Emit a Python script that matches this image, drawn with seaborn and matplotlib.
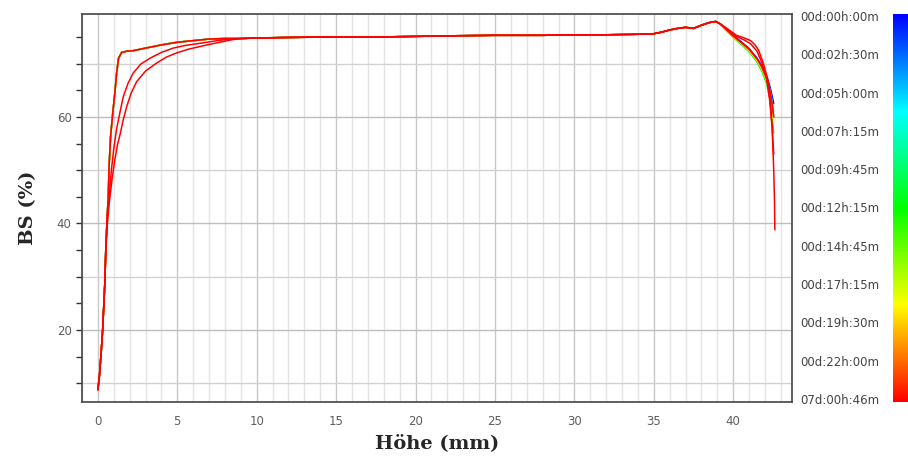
import numpy as np
import pandas as pd
import matplotlib
matplotlib.use("Agg")
import matplotlib.pyplot as plt
from matplotlib.colors import LinearSegmentedColormap
from matplotlib.ticker import MultipleLocator
import seaborn as sns

# colorbar time labels (top -> bottom)
zeit_labels = ["00d:00h:00m", "00d:02h:30m", "00d:05h:00m", "00d:07h:15m",
               "00d:09h:45m", "00d:12h:15m", "00d:14h:45m", "00d:17h:15m",
               "00d:19h:30m", "00d:22h:00m", "07d:00h:46m"]

# steep rise, shared by the early scans
start_x = [0, 0.1, 0.2, 0.3, 0.44, 0.5, 0.59, 0.65, 0.71, 0.8, 0.93, 1.07, 1.18,
           1.3, 1.5, 1.8, 2.2, 3, 4, 5, 6, 7, 8]
start_y = [8.8, 11.5, 15.5, 20, 29, 35.4, 41.6, 44.8, 51, 56.3, 60.5, 64.5, 68.2,
           71.0, 72.1, 72.3, 72.4, 72.9, 73.5, 74.0, 74.3, 74.6, 74.7]

# plateau, shared by all scans
mitte_x = [9, 10, 12, 15, 18, 20, 22, 25, 28, 30, 32, 34, 35, 35.5, 36, 36.5,
           37, 37.5, 38, 38.5, 38.9, 39.2]
mitte_y = [74.7, 74.8, 74.9, 75.0, 75.0, 75.1, 75.2, 75.3, 75.3, 75.4, 75.4, 75.5,
           75.6, 75.9, 76.3, 76.6, 76.8, 76.6, 77.2, 77.7, 77.9, 77.4]

# top end of the sample, per scan
tail_x = [39.6, 40.0, 40.5, 41.0, 41.5, 41.8, 42.1, 42.3, 42.45, 42.55]
tail_blau = [76.3, 75.3, 74.1, 72.8, 71.0, 69.6, 67.6, 65.8, 63.9, 62.5]
tail_cyan = [76.2, 75.1, 73.9, 72.6, 70.8, 69.3, 67.2, 65.2, 63.0, 61.0]
tail_gruen = [76.0, 74.9, 73.6, 72.2, 70.3, 68.6, 66.3, 63.5, 60.0, 57.0]
tail_gelb = [76.1, 75.0, 73.8, 72.4, 70.6, 69.0, 66.8, 64.5, 61.5, 59.0]
tail_orange = [76.2, 75.1, 73.9, 72.6, 70.8, 69.3, 67.0, 64.8, 62.0, 60.0]
tail_rot = [76.3, 75.2, 74.0, 72.7, 70.9, 69.4, 67.3, 65.0, 62.5, 60.0]

# the two late scans with slower rise (start part, then top end)
spaet_a_start_x = [0, 0.1, 0.2, 0.3, 0.44, 0.5, 0.59, 0.7, 0.85, 1.0, 1.17, 1.4, 1.6,
                   1.9, 2.22, 2.7, 3.28, 4.0, 4.74, 5.5, 6.43, 7.5, 8.3]
spaet_a_start_y = [8.8, 11.5, 15.5, 20, 29, 35.4, 41.0, 44.5, 50, 54, 57.6, 61, 63.8,
                   66.3, 68.2, 69.9, 71.0, 72.1, 72.9, 73.4, 73.8, 74.3, 74.6]
spaet_a_end_x = [39.6, 40.2, 40.7, 41.1, 41.5, 41.8, 42.1, 42.3, 42.45, 42.55]
spaet_a_end_y = [76.5, 75.1, 74.4, 73.7, 72.3, 70.2, 67.2, 63.0, 58.0, 53.0]

spaet_b_start_x = [0, 0.1, 0.2, 0.3, 0.44, 0.5, 0.6, 0.72, 0.9, 1.07, 1.25, 1.39, 1.6,
                   1.81, 2.1, 2.44, 3.0, 3.7, 4.3, 4.96, 5.7, 6.43, 7.5, 8.5]
spaet_b_start_y = [8.8, 11.5, 15.5, 20, 29, 35, 40, 44, 48.5, 52, 55, 56.6, 59.5,
                   61.9, 64.5, 66.6, 68.6, 70.1, 71.2, 72.0, 72.7, 73.2, 73.9, 74.5]
spaet_b_end_x = [39.6, 40.2, 40.7, 41.1, 41.4, 41.6, 41.9, 42.2, 42.35, 42.45, 42.55,
                 42.6, 42.62]
spaet_b_end_y = [76.6, 75.3, 74.8, 74.3, 73.4, 72.5, 70.0, 66.8, 62.0, 58.0, 50.0,
                 44.0, 38.8]

# position of each scan on the time colour scale (1 = start, 0 = end)
scan_pos = {"blau": 1.0, "cyan": 0.75, "gruen": 0.5, "gelb": 0.25,
            "orange": 0.1, "rot": 0.0, "spaet_a": 0.0, "spaet_b": 0.0}

cmap = LinearSegmentedColormap.from_list(
    "zeit", [(0, "#ff0000"), (0.25, "#ffff00"), (0.5, "#00ff00"),
             (0.75, "#00ffff"), (1, "#0000ff")])

rows = []
tails = {"blau": tail_blau, "cyan": tail_cyan, "gruen": tail_gruen,
         "gelb": tail_gelb, "orange": tail_orange, "rot": tail_rot}
for name, ty in tails.items():
    xs = start_x + mitte_x + tail_x
    ys = start_y + mitte_y + ty
    rows += [(name, x, y) for x, y in zip(xs, ys)]
spaet = {"spaet_a": (spaet_a_start_x, spaet_a_start_y, spaet_a_end_x, spaet_a_end_y),
         "spaet_b": (spaet_b_start_x, spaet_b_start_y, spaet_b_end_x, spaet_b_end_y)}
for name, (sx, sy, ex, ey) in spaet.items():
    xs = sx + mitte_x + ex
    ys = sy + mitte_y + ey
    rows += [(name, x, y) for x, y in zip(xs, ys)]
df = pd.DataFrame(rows, columns=["scan", "hoehe", "bs"])

sns.set_style("white")
plt.rcParams["font.family"] = ["DejaVu Sans"]

fig = plt.figure(figsize=(9.08, 4.66), dpi=100)
ax = fig.add_axes([82 / 908, 1 - 402 / 466, 710 / 908, 388 / 466])
cax = fig.add_axes([893 / 908, 1 - 402 / 466, 15 / 908, 388 / 466])

# grid drawn by hand: every mm on x, every 10 % on y
for gx in range(-1, 44):
    ax.axvline(gx, color="#c8c8c8" if gx % 5 == 0 else "#e4e4e4", lw=1.0, zorder=0)
for gy in range(10, 80, 10):
    ax.axhline(gy, color="#bdbdbd" if gy % 20 == 0 else "#d2d2d2", lw=1.0, zorder=0)

palette = {k: cmap(v) for k, v in scan_pos.items()}
sns.lineplot(data=df, x="hoehe", y="bs", hue="scan", hue_order=list(scan_pos.keys()),
             palette=palette, sort=False, estimator=None, lw=1.1, legend=False, ax=ax)

ax.set_xlim(-1, 43.7)
ax.set_ylim(6.5, 79.3)
ax.xaxis.set_major_locator(MultipleLocator(5))
ax.xaxis.set_minor_locator(MultipleLocator(1))
ax.yaxis.set_major_locator(MultipleLocator(20))
ax.yaxis.set_minor_locator(MultipleLocator(5))
ax.tick_params(axis="x", which="major", direction="inout", length=17, width=1.2,
               color="#333333", labelsize=8.5, labelcolor="#5e5e5e", pad=1)
ax.tick_params(axis="x", which="minor", direction="inout", length=11, width=1.0,
               color="#333333")
ax.tick_params(axis="y", which="both", direction="out", length=4, width=1.0,
               color="#333333", labelsize=8.5, labelcolor="#5e5e5e", left=True)
for s in ax.spines.values():
    s.set_color("#444444")
    s.set_linewidth(1.2)

ax.set_xlabel("Höhe (mm)", family="DejaVu Serif", fontweight="bold", fontsize=14, labelpad=4)
ax.set_ylabel("BS (%)", family="DejaVu Serif", fontweight="bold", fontsize=14, labelpad=14)

# colour bar for the scan times
grad = np.linspace(0, 1, 256).reshape(-1, 1)
cax.imshow(grad, cmap=cmap, aspect="auto", origin="lower", extent=[0, 1, 0, 1])
cax.set_xticks([])
cax.set_yticks(np.linspace(0.995, 0.008, len(zeit_labels)))
cax.set_yticklabels(zeit_labels)
cax.tick_params(axis="y", length=0, pad=10, labelsize=8.5, labelcolor="#444444")
for s in cax.spines.values():
    s.set_visible(False)

fig.savefig("out.png", dpi=100)
